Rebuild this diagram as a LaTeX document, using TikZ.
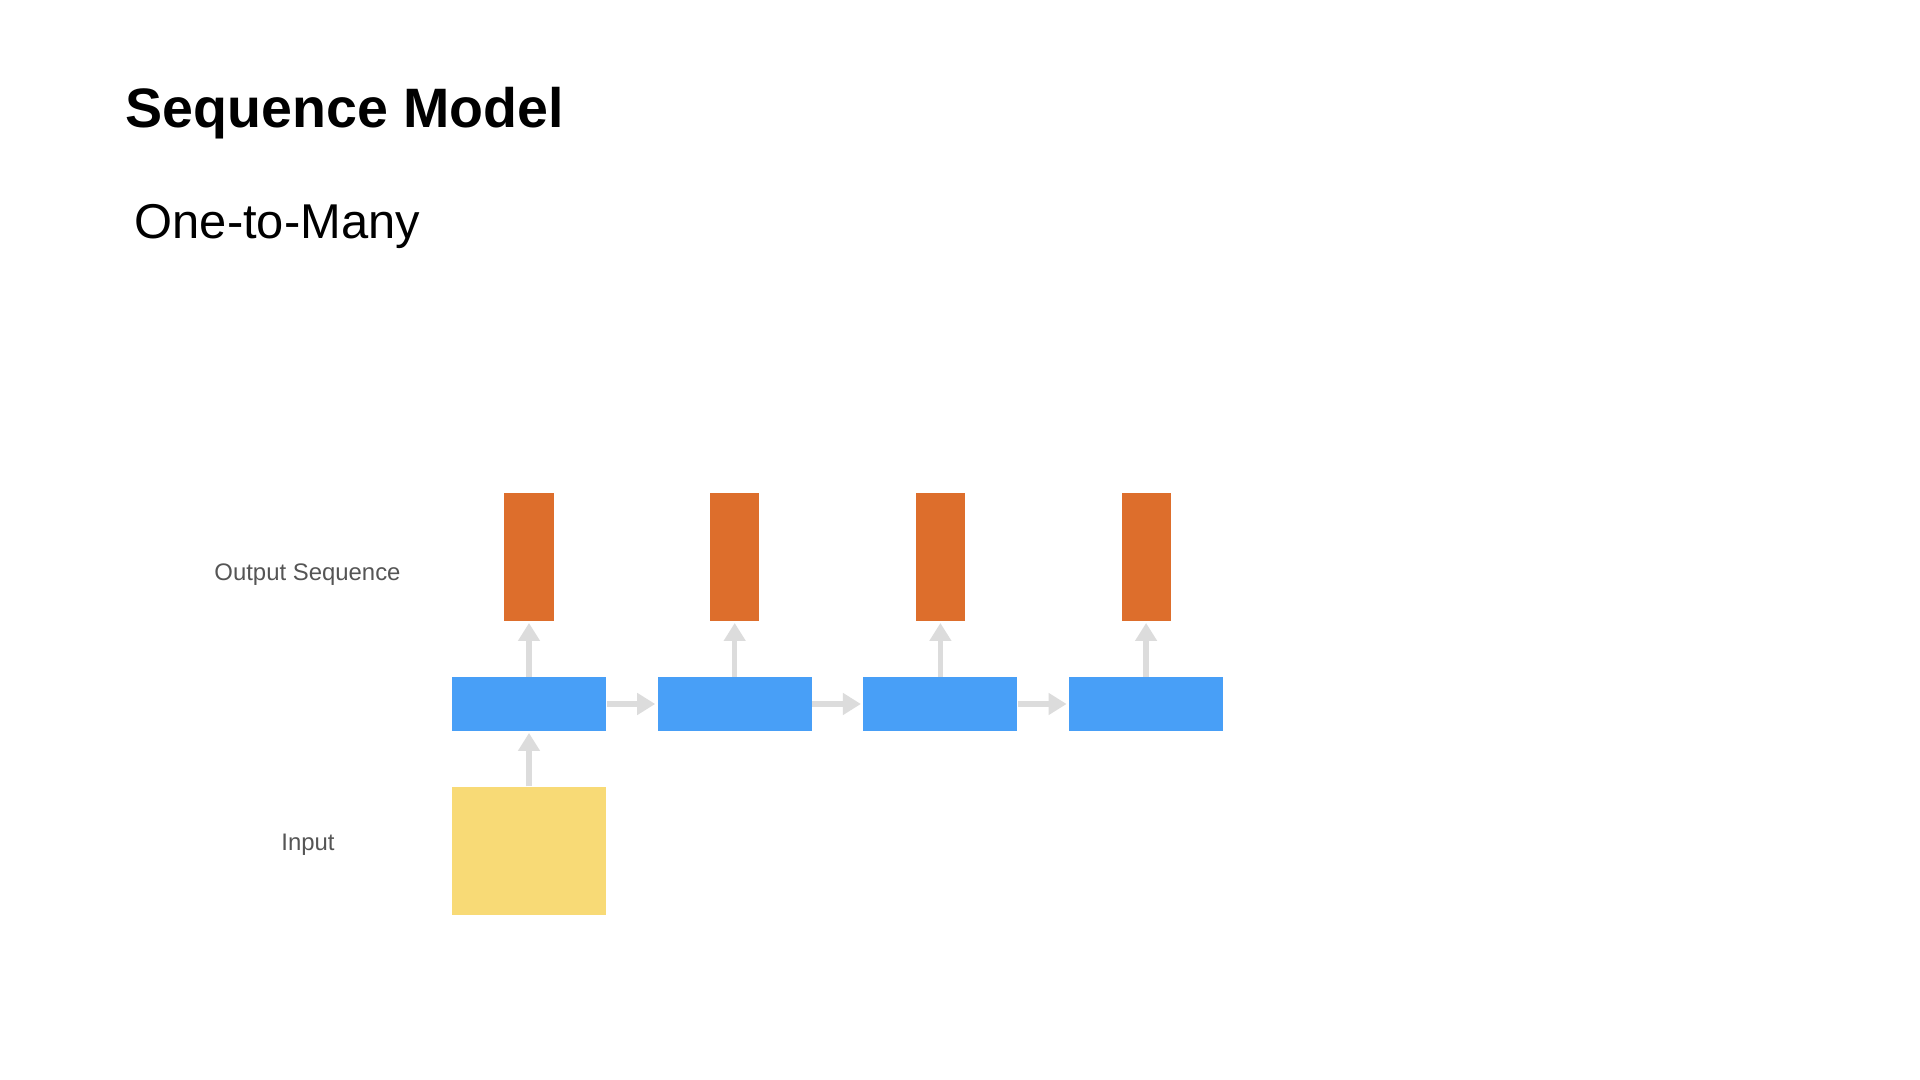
\documentclass[tikz,border=0pt]{standalone}
\usepackage{fontspec}
\setmainfont{Liberation Sans}
\usepackage{tikz}
\usetikzlibrary{math,arrows.meta}
\definecolor{CellBlue}{RGB}{72,159,247}
\definecolor{OutOrange}{RGB}{221,110,44}
\definecolor{InYellow}{RGB}{248,218,118}
\definecolor{LinkGray}{RGB}{220,220,220}
\definecolor{LabelGray}{RGB}{85,85,85}
\tikzset{%
  cell/.style={fill=CellBlue, inner sep=0pt, minimum width=1.54cm, minimum height=0.53cm},
  out box/.style={fill=OutOrange, inner sep=0pt, minimum width=0.49cm, minimum height=1.27cm},
  in box/.style={fill=InYellow, inner sep=0pt, minimum width=1.54cm, minimum height=1.28cm},
  link/.style={draw=LinkGray, line width=0.055cm, -{Triangle[width=0.21cm,length=0.18cm]}, shorten >=0.5pt},
  side label/.style={text=LabelGray, inner sep=0pt, font=\fontsize{6.8pt}{8pt}\selectfont}
}

\begin{document}
\begin{tikzpicture}[x=0.01cm,y=-0.01cm]
    \tikzmath{
      \dx=205.7; % step between cells
      \xa=529; % first column
      \yc=704; % hidden row
      \yo=557; % output row
      \yi=851; % input row
    }
    \useasboundingbox[fill=white] (0,0) rectangle (1920,1080);
    \node[anchor=base west, inner sep=0pt, font=\bfseries\fontsize{15.8pt}{19pt}\selectfont] (title) at (125,128) {Sequence Model};
    \node[anchor=base west, inner sep=0pt, font=\fontsize{13.9pt}{16pt}\selectfont] (subtitle) at (134,239) {One-to-Many};
    \node[side label, anchor=base] (lblout) at (307.5,581) {Output Sequence};
    \node[side label, anchor=base] (lblin) at (308,851) {Input};
    \foreach \i in {0,...,3} {
      \node[cell] (cell\i) at (\xa+\i*\dx,\yc) {};
      \node[out box] (out\i) at (\xa+\i*\dx,\yo) {};
      \draw[link] (cell\i) -- (out\i);
    }
    \foreach \i/\j in {0/1, 1/2, 2/3} {
      \draw[link] (cell\i) -- (cell\j);
    }
    \node[in box] (inp) at (\xa,\yi) {};
    \draw[link] (inp) -- (cell0);
\end{tikzpicture}
\end{document}
